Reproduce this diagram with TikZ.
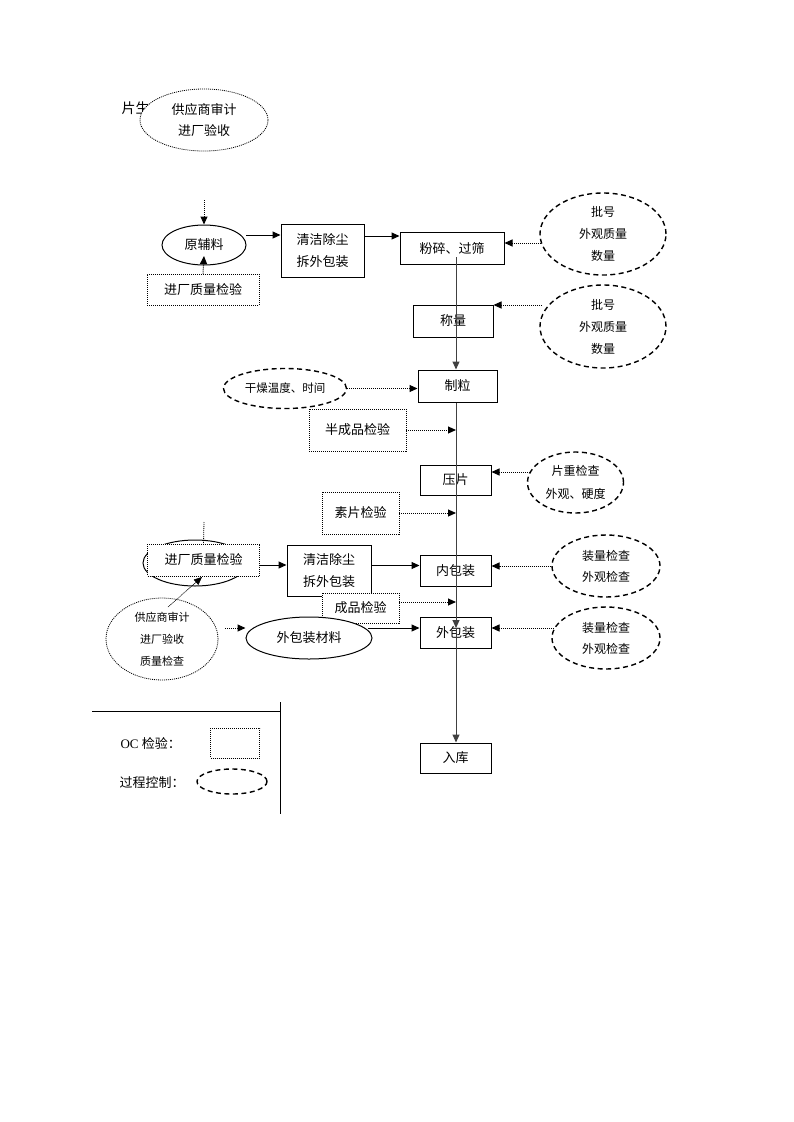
\documentclass[tikz,border=0pt]{standalone}
\usepackage{fontspec}
\setmainfont{Liberation Serif}
\newfontfamily\cjk{Noto Sans CJK SC}
\usetikzlibrary{arrows.meta,shapes.geometric}
\begin{document}
\begin{tikzpicture}[x=1pt,y=-1pt,
  box/.style={draw,line width=1pt,fill=white,inner sep=0pt,align=center,font=\cjk\fontsize{13}{22}\selectfont},
  qbox/.style={draw,line width=0.9pt,dash pattern=on 1pt off 1pt,fill=white,inner sep=0pt,align=center,font=\cjk\fontsize{13}{22}\selectfont},
  oval/.style={ellipse,draw,line width=1pt,fill=white,inner sep=0pt,align=center,font=\cjk\fontsize{13}{22}\selectfont},
  dotell/.style={ellipse,draw,line width=0.8pt,dash pattern=on 1pt off 1pt,fill=white,inner sep=0pt,align=center,font=\cjk\fontsize{12}{22}\selectfont},
  pc/.style={ellipse,draw,line width=1.4pt,dash pattern=on 5pt off 3.5pt,fill=white,inner sep=0pt,align=center,font=\cjk\fontsize{12}{22}\selectfont},
  arr/.style={-{Triangle[length=8pt,width=7pt]},line width=1pt},
  darr/.style={arr,dash pattern=on 1pt off 1pt},
  vline/.style={line width=1.1pt,draw=black!75},
  lbl/.style={font=\cjk\fontsize{13}{22}\selectfont}
]
\useasboundingbox (0,0) rectangle (793,1122);

% title (partly hidden)
\node[lbl,anchor=west,font=\cjk\fontsize{14}{14}\selectfont] (ttl) at (118,108) {片生};
\node[dotell,minimum width=128pt,minimum height=62pt,font=\cjk\fontsize{13}{21}\selectfont] (sup1) at (204,120) {供应商审计\\进厂验收};

% upper flow
\node[oval,minimum width=84pt,minimum height=40pt] (yfl) at (204,245) {原辅料};
\node[qbox,minimum width=112pt,minimum height=31pt] (jc1) at (203,289.5) {进厂质量检验};
\node[box,minimum width=83pt,minimum height=53pt] (qj1) at (322.5,250.5) {清洁除尘\\拆外包装};
\node[box,minimum width=104pt,minimum height=32pt] (fs) at (452,248.5) {粉碎、过筛};
\node[pc,minimum width=126pt,minimum height=82pt] (e1) at (603,234) {批号\\外观质量\\数量};
\node[box,minimum width=80pt,minimum height=32pt] (cl) at (453,321) {称量};
\node[pc,minimum width=126pt,minimum height=83pt] (e2) at (603,326.5) {批号\\外观质量\\数量};
\node[box,minimum width=79pt,minimum height=32pt] (zl) at (457.5,386) {制粒};
\node[pc,minimum width=123pt,minimum height=40pt,font=\cjk\fontsize{11.5}{14}\selectfont] (gz) at (285,388.5) {干燥温度、时间};
\node[qbox,minimum width=97pt,minimum height=42pt] (bcp) at (357.5,430) {半成品检验};
\node[box,minimum width=71pt,minimum height=30pt] (yp) at (455.5,480) {压片};
\node[pc,minimum width=96pt,minimum height=61pt,font=\cjk\fontsize{12}{23}\selectfont] (e3) at (575.5,482.5) {片重检查\\外观、硬度};
\node[qbox,minimum width=77pt,minimum height=42pt] (sp) at (360.5,513) {素片检验};

% lower flow
\node[box,minimum width=71pt,minimum height=31pt] (nbz) at (455.5,570.5) {内包装};
\node[pc,minimum width=108pt,minimum height=62pt,font=\cjk\fontsize{12}{21}\selectfont] (e4) at (606,566) {装量检查\\外观检查};
\node[oval,minimum width=104pt,minimum height=46pt] (hid) at (195,563) {};
\node[qbox,minimum width=112pt,minimum height=32pt] (jc2) at (203.5,560) {进厂质量检验};
\node[box,minimum width=84pt,minimum height=51pt] (qj2) at (329,570.5) {清洁除尘\\拆外包装};
\node[qbox,minimum width=77pt,minimum height=30pt] (cp) at (360.5,608) {成品检验};
\node[dotell,minimum width=112pt,minimum height=82pt,font=\cjk\fontsize{11}{22}\selectfont] (sup2) at (162,639) {供应商审计\\进厂验收\\质量检查};
\node[oval,minimum width=126pt,minimum height=42pt] (wbc) at (309,638) {外包装材料};
\node[box,minimum width=71pt,minimum height=31pt] (wbz) at (455.5,632.5) {外包装};
\node[pc,minimum width=108pt,minimum height=62pt,font=\cjk\fontsize{12}{21}\selectfont] (e5) at (606,638) {装量检查\\外观检查};
\node[box,minimum width=71pt,minimum height=30pt] (rk) at (455.5,758) {入库};

% helper coordinates
\coordinate (t0) at (204,200);
\coordinate (t1) at (204,256);
\coordinate (a1) at (246,235);
\coordinate (a2) at (364,236);
\coordinate (r1) at (541,243);
\coordinate (r2) at (542,305);
\coordinate (r3) at (530,472);
\coordinate (r5) at (554,628);
\coordinate (vtop) at (456,257);
\coordinate (vw) at (456,628);
\coordinate (j0) at (204,522);
\coordinate (s0) at (168,607);
\coordinate (s1) at (202,577);
\coordinate (s2) at (225,628);
\coordinate (w1) at (368,628);
\coordinate (c1) at ([yshift=6pt]cp.east);
\coordinate (c2) at ([yshift=-5pt]jc2.east);
\coordinate (c3) at ([yshift=5pt]qj2.east);

% connectors upper
\draw[darr] (t0) -- (yfl.north);
\draw[darr] (jc1.north) -- (t1);
\draw[arr] (a1) -- (a1 -| qj1.west);
\draw[arr] (a2) -- (a2 -| fs.west);
\draw[darr] (r1) -- (r1 -| fs.east);
\draw[darr] (r2) -- (r2 -| cl.east);
\draw[darr] (gz.east) -- (gz.east -| zl.west);
\draw[darr] (r3) -- (r3 -| yp.east);
\draw[darr] (e4.west) -- (e4.west -| nbz.east);
\draw[darr] (r5) -- (r5 -| wbz.east);

% main vertical line
\draw[vline,arr] (vtop) -- (vtop |- zl.north);
\draw[vline,arr] (vtop |- zl.south) -- (vw);
\draw[vline,arr] (vw) -- (vtop |- rk.north);

% checks into the line
\draw[darr] (bcp.east) -- (vtop |- bcp.east);
\draw[darr] (sp.east) -- (vtop |- sp.east);
\draw[darr] (c1) -- (vtop |- c1);

% connectors lower
\draw[line width=0.8pt,dash pattern=on 1pt off 1pt] (j0) -- (jc2.north);
\draw[arr] (c2) -- (c2 -| qj2.west);
\draw[arr] (c3) -- (c3 -| nbz.west);
\draw[line width=0.6pt,dash pattern=on 1pt off 0.6pt,-{Triangle[length=8pt,width=7pt]}] (s0) -- (s1);
\draw[darr] (s2) -- (s2 -| wbc.west);
\draw[arr] (w1) -- (w1 -| wbz.west);

% legend
\coordinate (l1) at (92,711);
\coordinate (l2) at (280,711);
\coordinate (l3) at (280,702);
\coordinate (l4) at (280,814);
\draw[line width=1pt] (l1) -- (l2);
\draw[line width=1pt] (l3) -- (l4);
\node[anchor=west,font=\fontsize{13}{14}\selectfont] (oc) at (117,743) {OC {\cjk 检验：}};
\node[qbox,minimum width=49pt,minimum height=30pt] (lq) at (235,743) {};
\node[lbl,anchor=west] (gc) at (116,783) {过程控制：};
\node[pc,minimum width=70pt,minimum height=25pt] (lp) at (232,781.5) {};
\end{tikzpicture}
\end{document}
